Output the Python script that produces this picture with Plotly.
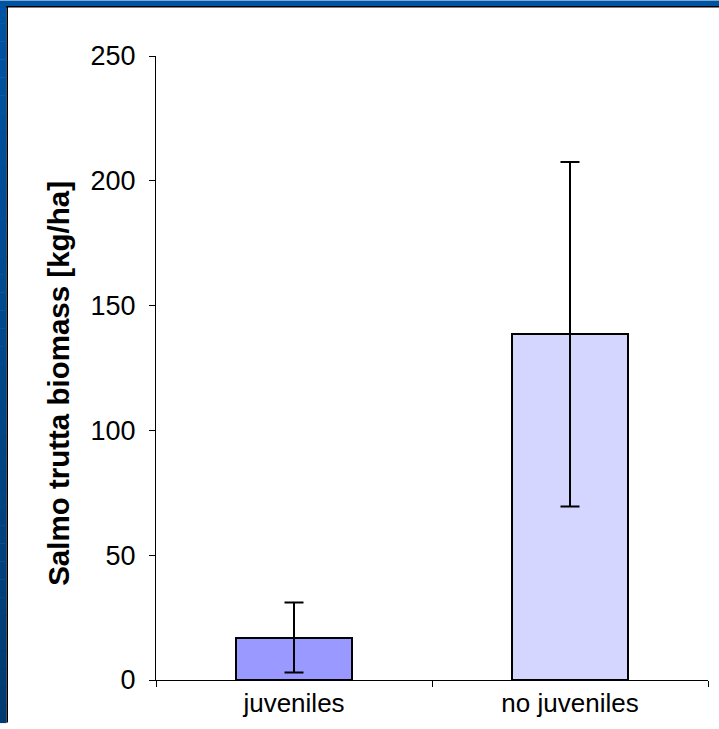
import plotly.graph_objects as go

# Salmo trutta biomass by group
categories = ["juveniles", "no juveniles"]
biomass = [17, 138.5]
biomass_err = [14, 69]
bar_colors = ["#9999FF", "#D4D6FF"]

y_tickvals = [0, 50, 100, 150, 200, 250]

W, H = 719, 729
L, R, T, B = 156, 11, 56, 43
PW, PH = W - L - R, H - T - B


def px_x(px):
    return (px - L) / PW


def px_y(py):
    return (H - B - py) / PH


fig = go.Figure()
fig.add_trace(go.Bar(
    x=categories,
    y=biomass,
    width=0.42,
    marker=dict(color=bar_colors, line=dict(color="black", width=2)),
    error_y=dict(type="data", array=biomass_err, visible=True,
                 color="black", thickness=2, width=9.5),
    showlegend=False,
))

shapes = []
# slide frame: blue bands on the top and left with a dark inner edge
shapes.append(dict(type="rect", xref="paper", yref="paper",
                   x0=px_x(0), x1=px_x(W), y0=px_y(0), y1=px_y(5.5),
                   fillcolor="#0053A3", line=dict(width=0), layer="above"))
n_seg = 40
for i in range(n_seg):
    t = i / (n_seg - 1)
    g = int(0x53 + t * (0x3C - 0x53))
    b = int(0xA3 + t * (0x72 - 0xA3))
    y0 = 5 + i * (H - 5) / n_seg
    y1 = 5 + (i + 1) * (H - 5) / n_seg + 0.5
    shapes.append(dict(type="rect", xref="paper", yref="paper",
                       x0=px_x(0), x1=px_x(6.5), y0=px_y(y0), y1=px_y(y1),
                       fillcolor=f"rgb(0,{g},{b})", line=dict(width=0),
                       layer="above"))
shapes.append(dict(type="rect", xref="paper", yref="paper",
                   x0=px_x(6), x1=px_x(W), y0=px_y(5.5), y1=px_y(7),
                   fillcolor="black", line=dict(width=0), layer="above"))
shapes.append(dict(type="rect", xref="paper", yref="paper",
                   x0=px_x(6.5), x1=px_x(8), y0=px_y(5.5), y1=px_y(H),
                   fillcolor="black", line=dict(width=0), layer="above"))

fig.update_layout(
    width=W, height=H,
    margin=dict(l=L, r=R, t=T, b=B, pad=0),
    paper_bgcolor="white", plot_bgcolor="white",
    font=dict(family="Liberation Sans, Arial, sans-serif", color="black", size=27),
    bargap=0,
    shapes=shapes,
    annotations=[dict(
        text="<b>Salmo trutta biomass [kg/ha]</b>",
        xref="paper", yref="paper",
        x=px_x(59), y=px_y(387), xanchor="center", yanchor="middle",
        textangle=-90, showarrow=False,
        font=dict(size=29.5, family="Liberation Sans, Arial, sans-serif", color="black"),
    )],
    xaxis=dict(
        range=[-0.5, 1.5], showgrid=False, zeroline=False,
        showline=True, linecolor="black", linewidth=1,
        ticks="outside", tickson="boundaries", ticklen=6, tickcolor="black",
        tickwidth=1, tickfont=dict(size=26), ticklabelstandoff=0,
    ),
    yaxis=dict(
        range=[0, 250], tickvals=y_tickvals, showgrid=False, zeroline=False,
        showline=True, linecolor="black", linewidth=1,
        ticks="outside", ticklen=6, tickcolor="black", tickwidth=1,
        tickfont=dict(size=27), ticklabelstandoff=8,
    ),
)

fig.write_html("out.html")
